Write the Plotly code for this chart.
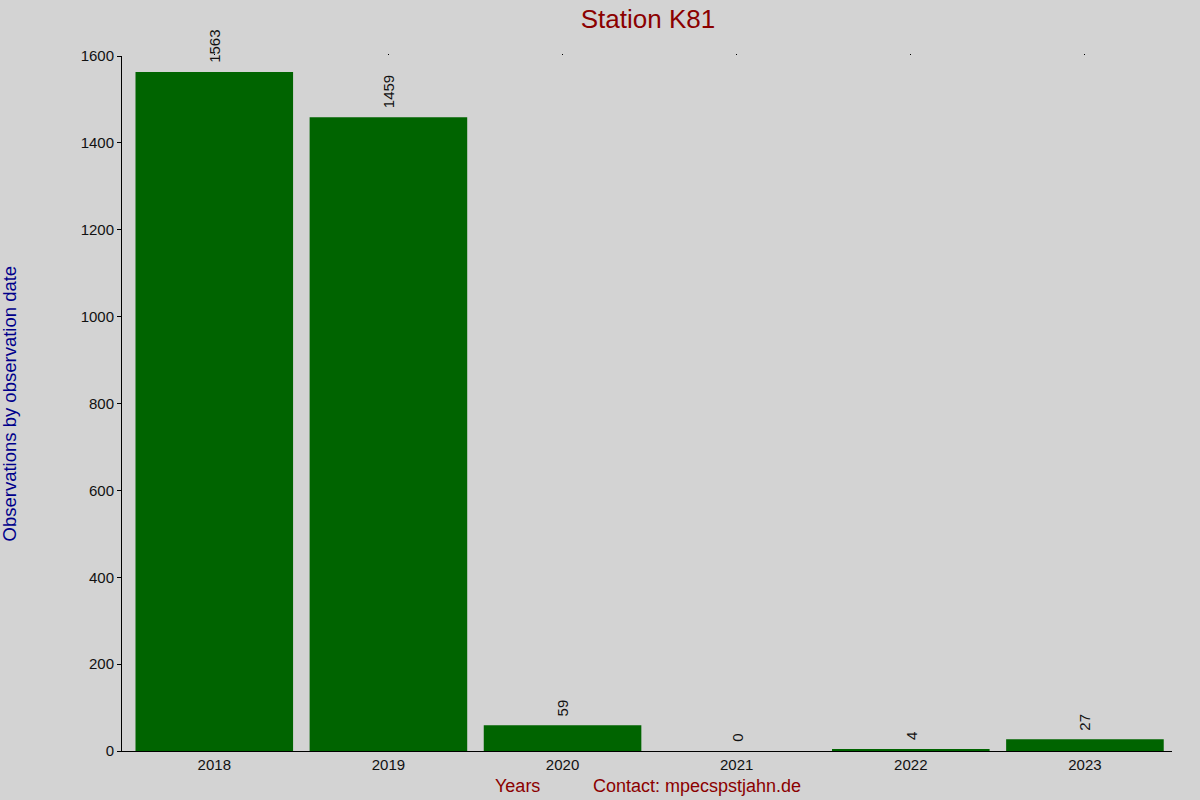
import plotly.graph_objects as go

# --- data ---
years = ["2018", "2019", "2020", "2021", "2022", "2023"]
observations = [1563, 1459, 59, 0, 4, 27]
y_ticks = [0, 200, 400, 600, 800, 1000, 1200, 1400, 1600]

bg = "#d3d3d3"
font = "Liberation Sans, Arial, sans-serif"

fig = go.Figure()
fig.add_trace(go.Bar(
    x=years, y=observations,
    marker=dict(color="#006400", line=dict(width=0)),
    width=0.905,
    hoverinfo="x+y",
))
# invisible twin on top, only for the tiny tick dots along the top edge
fig.add_trace(go.Bar(x=years, y=observations, xaxis="x2",
                     marker=dict(opacity=0), hoverinfo="skip", showlegend=False))

# value labels, rotated, sitting above each bar
# (category index used as x, year strings would be read as indices)
labels = [
    dict(x=i, y=v, xref="x", yref="y", text=str(v), textangle=-90,
         xanchor="center", yanchor="bottom", yshift=7, showarrow=False,
         font=dict(family=font, size=15, color="#111111"))
    for i, v in enumerate(observations)
]

fig.update_layout(
    width=1200, height=800,
    paper_bgcolor=bg, plot_bgcolor=bg,
    margin=dict(l=122, r=28, t=56, b=49),
    showlegend=False,
    font=dict(family=font, size=15, color="#111111"),
    title=dict(text="Station K81", x=0.54, y=0.977, xanchor="center", yanchor="middle",
               font=dict(family=font, size=26, color="#8b0000")),
    xaxis=dict(
        type="category", range=[-0.53, 5.5],
        showline=True, linecolor="black", linewidth=1,
        ticks="", showgrid=False, zeroline=False,
        tickfont=dict(size=15),
    ),
    xaxis2=dict(
        type="category", range=[-0.53, 5.5], overlaying="x", side="top",
        showline=False, ticks="outside", ticklen=1, tickcolor="black",
        showticklabels=False, showgrid=False, zeroline=False,
    ),
    yaxis=dict(
        range=[0, 1600], tickvals=y_ticks,
        showline=True, linecolor="black", linewidth=1,
        ticks="outside", ticklen=4, tickcolor="black",
        showgrid=False, zeroline=False,
        tickfont=dict(size=15),
    ),
    annotations=labels + [
        dict(text="Years", xref="paper", yref="paper", x=0.3762, y=-0.0504,
             xanchor="center", yanchor="middle", showarrow=False,
             font=dict(family=font, size=18, color="#8b0000")),
        dict(text="Contact: mpecspstjahn.de", xref="paper", yref="paper", x=0.5476, y=-0.0504,
             xanchor="center", yanchor="middle", showarrow=False,
             font=dict(family=font, size=18, color="#8b0000")),
        dict(text="Observations by observation date", xref="paper", yref="paper",
             x=-0.1067, y=0.5, xanchor="center", yanchor="middle", textangle=-90,
             showarrow=False, font=dict(family=font, size=18.5, color="#00008b")),
    ],
)

fig.write_html("out.html", config={"displayModeBar": False},
               post_script="document.body.style.margin='0';document.body.style.background='#d3d3d3';")
